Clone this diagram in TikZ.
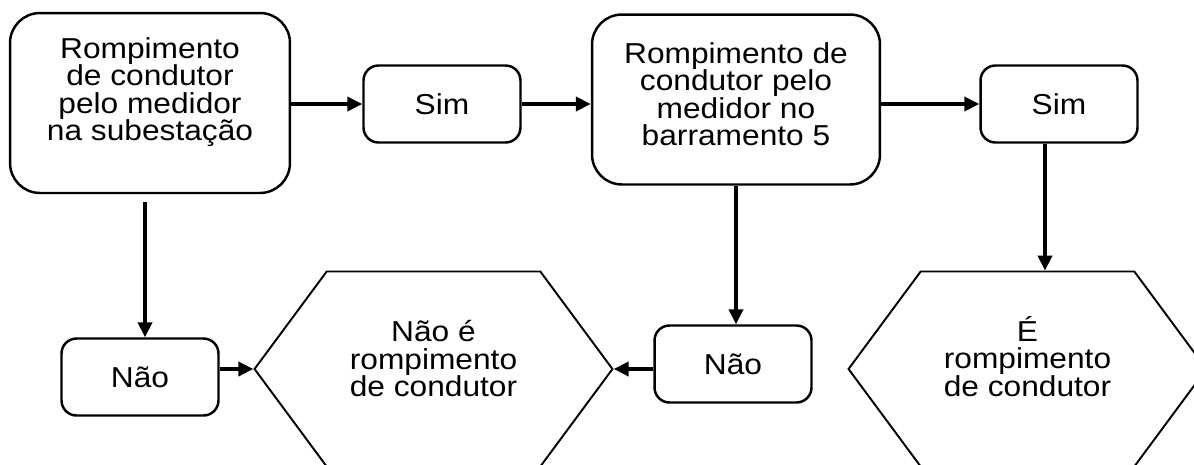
\documentclass[tikz,border=0pt]{standalone}
\usepackage{fontspec}
\setmainfont{Liberation Sans}[FakeStretch=1.1]
\usetikzlibrary{shapes.symbols, arrows.meta}

\begin{document}
\begin{tikzpicture}[
    x=0.02cm, y=-0.02cm,
    every node/.style={font=\fontsize{16.4}{15.7}\selectfont, align=center, inner sep=0pt},
    question/.style={
        draw=black,
        line width=1.4pt,
        rounded corners=0.6cm,
        minimum width=5.7cm,
        minimum height=3.5cm
    },
    answer/.style={
        draw=black,
        line width=1.4pt,
        rounded corners=0.3cm,
        minimum width=3.14cm,
        minimum height=1.54cm
    },
    result/.style={
        signal,
        signal to=west and east,
        signal pointer angle=107,
        draw=black,
        line width=1.1pt,
        minimum width=7.16cm,
        minimum height=3.9cm
    },
    arrow/.style={line width=2pt, -{Triangle[length=8.5pt, width=8pt]}}
]

\useasboundingbox (0,0) rectangle (1194,464);
\clip (0,0) rectangle (1194,464);

% perguntas
\node[question, minimum width=5.6cm, minimum height=3.6cm, text depth=16pt] (cond1) at (150,103)
    {Rompimento\\de condutor\\pelo medidor\\na subestação};
\node[question, minimum width=5.76cm, minimum height=3.4cm, text depth=6.2pt] (cond2) at (736,99.5)
    {Rompimento de\\condutor pelo\\medidor no\\barramento 5};

% respostas
\node[answer] (sim1) at (442,104) {Sim};
\node[answer] (sim2) at (1059,104) {Sim};
\node[answer] (nao1) at (140,377) {Não};
\node[answer] (nao2) at (733,364) {Não};

% resultados
\node[result, text depth=11.7pt] (hexa) at (433.5,369) {Não é\\rompimento\\de condutor};
\node[result, text depth=14.5pt] (hexb) at (1027.5,369) {É\\rompimento\\de condutor};

% ligações
\draw[arrow] (cond1.east |- sim1.west) -- (sim1.west);
\draw[arrow] (sim1.east) -- (sim1.east -| cond2.west);
\draw[arrow] (cond2.east |- sim2.west) -- (sim2.west);
\draw[arrow] ([xshift=-0.28cm]sim2.south) -- ([xshift=-0.28cm]sim2.south |- hexb.north);
\draw[arrow] ([xshift=-0.1cm,yshift=-0.16cm]cond1.south) -- ([xshift=-0.1cm]cond1.south |- nao1.north);
\draw[arrow] (cond2.south) -- (cond2.south |- nao2.north);
\draw[arrow] (nao1.east |- hexa.west) -- (hexa.west);
\draw[arrow] (nao2.west |- hexa.east) -- (hexa.east);

\end{tikzpicture}
\end{document}
